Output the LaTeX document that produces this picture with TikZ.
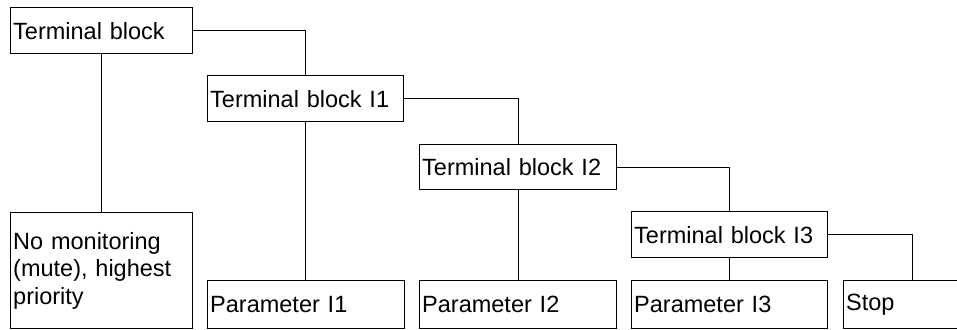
\documentclass[tikz,border=0pt]{standalone}
\usepackage{fontspec}
\setmainfont{Liberation Sans}
\begin{document}
\begin{tikzpicture}[x=1pt,y=1pt]
\tikzset{
  box/.style={draw, line width=1.4pt, rectangle, anchor=north west,
    inner xsep=2.5pt, inner ysep=0pt, align=left,
    font=\fontsize{23.5}{27.5}\selectfont},
  link/.style={draw, line width=1.4pt}
}
\useasboundingbox (0,0) rectangle (957,-329);
\node[box, text width=177pt, minimum height=46pt] (tb) at (10,-7) {Terminal block};
\node[box, text width=177pt, minimum height=116pt] (nomon) at (10,-212) {No monitoring\\(mute), highest\\priority};
\node[box, text width=191pt, minimum height=46pt] (tb1) at (207,-75) {Terminal block I1};
\node[box, text width=192pt, minimum height=45pt] (tb2) at (419,-144) {Terminal block I2};
\node[box, text width=191pt, minimum height=46pt] (tb3) at (631,-211) {Terminal block I3};
\node[box, text width=192pt, minimum height=48pt] (p1) at (207,-280) {Parameter I1};
\node[box, text width=192pt, minimum height=48pt] (p2) at (419,-280) {Parameter I2};
\node[box, text width=191pt, minimum height=48pt] (p3) at (631,-280) {Parameter I3};
\node[box, text width=133pt, minimum height=48pt] (stop) at (843,-280) {Stop};
\path[link] (tb.south) -- (tb.south |- nomon.north);
\path[link] (tb.east) -| (tb1.north);
\path[link] (tb1.south) -- (tb1.south |- p1.north);
\path[link] (tb1.east) -| (tb2.north);
\path[link] (tb2.south) -- (tb2.south |- p2.north);
\path[link] (tb2.east) -| (tb3.north);
\path[link] (tb3.south) -- (tb3.south |- p3.north);
\path[link] (tb3.east) -| (stop.north);
\end{tikzpicture}
\end{document}
